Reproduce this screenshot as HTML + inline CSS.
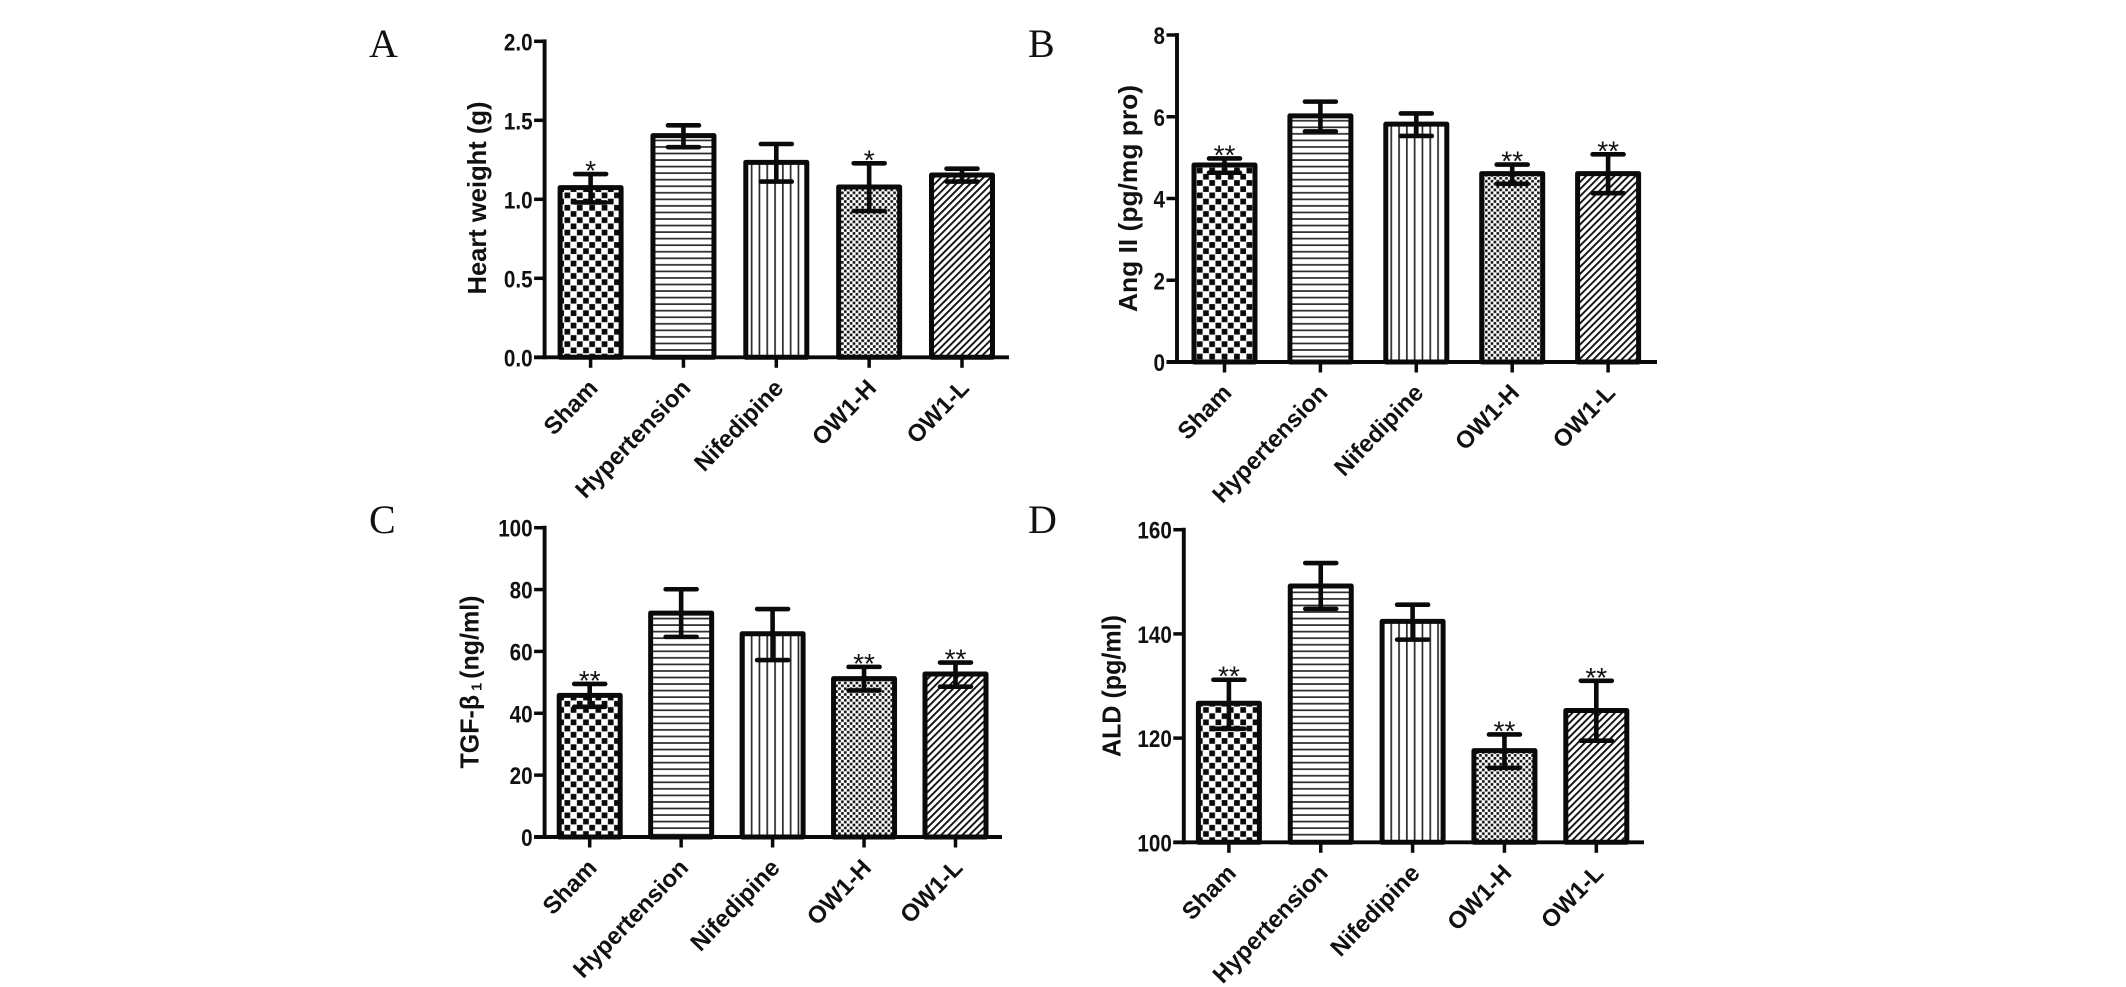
<!DOCTYPE html>
<html lang="en">
<head>
<meta charset="utf-8">
<title>Bar charts of heart weight, Ang II, TGF-β1 and ALD</title>
<style>
html,body{margin:0;padding:0;background:#fff;}
svg{display:block;}
text{font-family:"Liberation Sans",sans-serif;fill:#111;}
.tick{font-size:24px;font-weight:bold;}
.cat{font-size:24px;font-weight:bold;}
.ytitle{font-size:26px;font-weight:bold;}
.star{font-size:28px;}
.letter{font-family:"Liberation Serif",serif;font-size:40px;}
</style>
</head>
<body>
<svg id="fig" xmlns="http://www.w3.org/2000/svg" width="2126" height="987" viewBox="0 0 2126 987">
  <defs>
    <pattern id="p-check" patternUnits="userSpaceOnUse" width="12.4" height="12.4">
      <rect width="12.4" height="12.4" fill="#fff"/>
      <rect x="0.3" y="0.3" width="5.7" height="5.7" fill="#0a0a0a"/>
      <rect x="6.5" y="6.5" width="5.7" height="5.7" fill="#0a0a0a"/>
    </pattern>
    <pattern id="p-horiz" patternUnits="userSpaceOnUse" width="10" height="6.55">
      <rect width="10" height="6.55" fill="#fff"/>
      <rect y="2" width="10" height="1.7" fill="#2a2a2a"/>
    </pattern>
    <pattern id="p-vert" patternUnits="userSpaceOnUse" width="7.8" height="10">
      <rect width="7.8" height="10" fill="#fff"/>
      <rect x="2" width="1.7" height="10" fill="#2a2a2a"/>
    </pattern>
    <pattern id="p-dots" patternUnits="userSpaceOnUse" width="5.8" height="5.8">
      <rect width="5.8" height="5.8" fill="#fff"/>
      <rect x="0.1" y="0.1" width="2.6" height="2.6" fill="#111"/>
      <rect x="3" y="3" width="2.6" height="2.6" fill="#111"/>
    </pattern>
    <pattern id="p-diag" patternUnits="userSpaceOnUse" width="5" height="5" patternTransform="rotate(45)">
      <rect width="5" height="5" fill="#fff"/>
      <rect x="0" width="1.9" height="5" fill="#111"/>
    </pattern>
  </defs>
</svg>
<script>
// Shared categories
const categories = ['Sham', 'Hypertension', 'Nifedipine', 'OW1-H', 'OW1-L'];

// Panel A: heart weight (g)
const heartMeans  = [1.074, 1.403, 1.234, 1.078, 1.154];
const heartUppers = [1.16, 1.468, 1.35, 1.228, 1.194];
const heartLowers = [0.98, 1.33, 1.112, 0.926, 1.112];
const heartStars  = ['*', '', '', '*', ''];
const heartTicks  = ['0.0', '0.5', '1.0', '1.5', '2.0'];

// Panel B: Ang II (pg/mg pro)
const angMeans  = [4.82, 6.02, 5.82, 4.61, 4.61];
const angUppers = [4.98, 6.37, 6.08, 4.83, 5.08];
const angLowers = [4.63, 5.64, 5.53, 4.36, 4.13];
const angStars  = ['**', '', '', '**', '**'];
const angTicks  = ['0', '2', '4', '6', '8'];

// Panel C: TGF-beta1 (ng/ml)
const tgfMeans  = [45.8, 72.4, 65.7, 51.2, 52.7];
const tgfUppers = [49.5, 80.1, 73.7, 55.0, 56.4];
const tgfLowers = [42.1, 64.7, 57.2, 47.4, 48.6];
const tgfStars  = ['**', '', '', '**', '**'];
const tgfTicks  = ['0', '20', '40', '60', '80', '100'];

// Panel D: ALD (pg/ml)
const aldMeans  = [126.7, 149.2, 142.4, 117.6, 125.3];
const aldUppers = [131.2, 153.6, 145.6, 120.7, 131.0];
const aldLowers = [121.8, 144.8, 138.9, 114.3, 119.5];
const aldStars  = ['**', '', '', '**', '**'];
const aldTicks  = ['100', '120', '140', '160'];

const fills = ['p-check', 'p-horiz', 'p-vert', 'p-dots', 'p-diag'];
const NS = 'http://www.w3.org/2000/svg';
const fig = document.getElementById('fig');

function mk(tag, attrs, parent) {
  const el = document.createElementNS(NS, tag);
  for (const k in attrs) el.setAttribute(k, attrs[k]);
  parent.appendChild(el);
  return el;
}
function slug(s) {
  return s.toLowerCase().replace(/[^a-z0-9]+/g, '-');
}

function drawPanel(cfg, means, uppers, lowers, stars, ticks) {
  const g = mk('g', {}, fig);
  
  

  const yMin = Number(ticks[0]);
  const yMax = Number(ticks[ticks.length - 1]);
  const yScale = v => cfg.bottom - (v - yMin) / (yMax - yMin) * (cfg.bottom - cfg.top);
  const xScale = i => cfg.firstX + i * cfg.stepX;

  // panel letter
  const letter = mk('text', {class: 'letter', x: cfg.letterX, y: cfg.letterY}, g);
  letter.textContent = cfg.id.toUpperCase();
  
  

  // bars
  means.forEach((m, i) => {
    const cx = xScale(i);
    const top = yScale(m);
    const bar = mk('rect', {
      x: cx - 30.5, y: top, width: 61, height: cfg.bottom - top,
      fill: 'url(#' + fills[i] + ')', stroke: '#0a0a0a', 'stroke-width': 5, 'stroke-linejoin': 'round'
    }, g);
    
    
  });

  // error bars and significance markers
  means.forEach((m, i) => {
    const cx = xScale(i);
    const yU = yScale(uppers[i]);
    const yL = yScale(lowers[i]);
    const err = mk('path', {
      d: 'M' + cx + ' ' + yU + 'V' + yL +
         'M' + (cx - 15.5) + ' ' + yU + 'H' + (cx + 15.5) +
         'M' + (cx - 15.5) + ' ' + yL + 'H' + (cx + 15.5),
      fill: 'none', stroke: '#0a0a0a', 'stroke-width': 4.6, 'stroke-linecap': 'round'
    }, g);
    
    
    if (stars[i]) {
      const star = mk('text', {class: 'star', x: cx, y: yU + 6, 'text-anchor': 'middle'}, g);
      star.textContent = stars[i];
      
      
    }
  });

  // y axis
  const yAxis = mk('line', {
    x1: cfg.left, x2: cfg.left, y1: cfg.top - 1.9, y2: cfg.bottom + 1.9,
    stroke: '#0a0a0a', 'stroke-width': 3.9
  }, g);
  
  

  // y ticks
  ticks.forEach(t => {
    const y = yScale(Number(t));
    const tick = mk('line', {
      x1: cfg.left - 10.5, x2: cfg.left, y1: y, y2: y, stroke: '#0a0a0a', 'stroke-width': 3.5
    }, g);
    
    
    const lab = mk('text', {class: 'tick', x: cfg.left - 12, y: y + 9, 'text-anchor': 'end'}, g);
    lab.textContent = t;
    
    
    lab.setAttribute('lengthAdjust', 'spacingAndGlyphs');
    lab.setAttribute('textLength', (lab.getComputedTextLength() * 0.86).toFixed(1));
  });

  // x axis
  const xAxis = mk('line', {
    x1: cfg.left - 10.5, x2: cfg.right, y1: cfg.bottom, y2: cfg.bottom,
    stroke: '#0a0a0a', 'stroke-width': 3.9
  }, g);
  
  

  // x ticks and category labels
  categories.forEach((c, i) => {
    const cx = xScale(i);
    const tick = mk('line', {
      x1: cx, x2: cx, y1: cfg.bottom, y2: cfg.bottom + 10.5, stroke: '#0a0a0a', 'stroke-width': 3.5
    }, g);
    
    
    const ax = cx + 8.5;
    const ay = cfg.bottom + 32;
    const lab = mk('text', {
      class: 'cat', x: ax, y: ay, 'text-anchor': 'end',
      transform: 'rotate(-46 ' + ax + ' ' + ay + ')'
    }, g);
    lab.textContent = c;
    
    
  });

  // y axis title
  const title = mk('text', {
    class: 'ytitle', x: cfg.titleX, y: cfg.titleY, 'text-anchor': 'middle',
    textLength: cfg.titleLen, lengthAdjust: 'spacingAndGlyphs',
    transform: 'rotate(-90 ' + cfg.titleX + ' ' + cfg.titleY + ')'
  }, g);
  title.setAttribute('xml:space', 'preserve');
  
  
  if (cfg.titleSub) {
    const a = mk('tspan', {}, title);
    a.textContent = cfg.title;
    const s = mk('tspan', {'font-size': '15', dy: '3'}, title);
    s.textContent = ' ' + cfg.titleSub + ' ';
    const b = mk('tspan', {dy: '-3'}, title);
    b.textContent = cfg.titleEnd;
  } else {
    title.textContent = cfg.title;
  }
}

drawPanel({id: 'a', left: 544.6, right: 1009, top: 41.3, bottom: 357.3, firstX: 590.6, stepX: 92.85,
  letterX: 369, letterY: 57, titleX: 486, titleY: 198, titleLen: 193, title: 'Heart weight (g)'},
  heartMeans, heartUppers, heartLowers, heartStars, heartTicks);

drawPanel({id: 'b', left: 1177, right: 1657, top: 35, bottom: 362, firstX: 1224.5, stepX: 95.9,
  letterX: 1028, letterY: 57, titleX: 1137, titleY: 198.5, titleLen: 227, title: 'Ang II  (pg/mg pro)'},
  angMeans, angUppers, angLowers, angStars, angTicks);

drawPanel({id: 'c', left: 544.6, right: 1002, top: 527.7, bottom: 837, firstX: 589.7, stepX: 91.45,
  letterX: 369, letterY: 533, titleX: 478.6, titleY: 682, titleLen: 173, title: 'TGF-β', titleSub: '1', titleEnd: '(ng/ml)'},
  tgfMeans, tgfUppers, tgfLowers, tgfStars, tgfTicks);

drawPanel({id: 'd', left: 1183.8, right: 1644, top: 529.7, bottom: 842.3, firstX: 1228.9, stepX: 91.85,
  letterX: 1028, letterY: 533, titleX: 1120.4, titleY: 686, titleLen: 142, title: 'ALD (pg/ml)'},
  aldMeans, aldUppers, aldLowers, aldStars, aldTicks);
</script>
</body>
</html>
